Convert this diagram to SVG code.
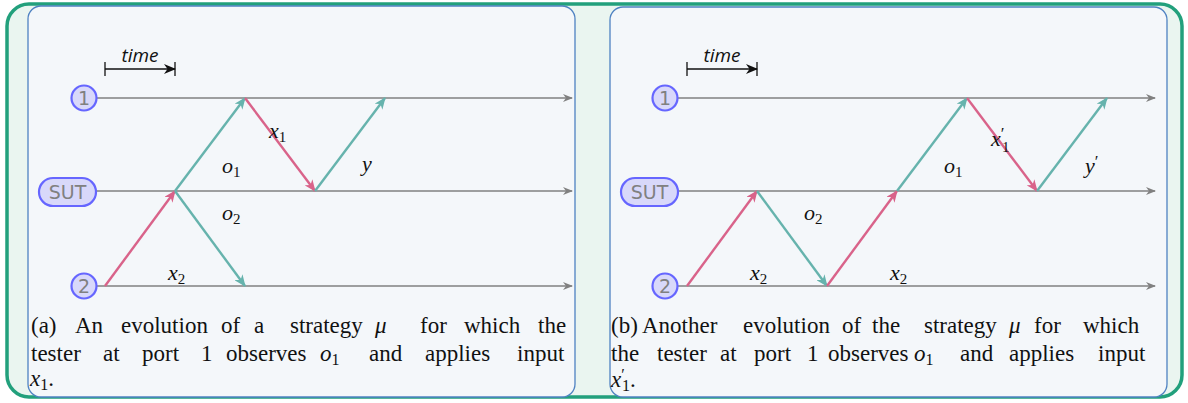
<svg xmlns="http://www.w3.org/2000/svg" width="1188" height="403" viewBox="0 0 1188 403">
<defs>
<marker id="ar" viewBox="0 0 12 10" refX="11" refY="5" markerWidth="12" markerHeight="10" markerUnits="userSpaceOnUse" orient="auto">
<path d="M0,0 L12,5 L0,10 L3.5,5 Z" fill="#d9638a"/>
</marker>
<marker id="at" viewBox="0 0 12 10" refX="11" refY="5" markerWidth="12" markerHeight="10" markerUnits="userSpaceOnUse" orient="auto">
<path d="M0,0 L12,5 L0,10 L3.5,5 Z" fill="#66b3ad"/>
</marker>
<marker id="ag" viewBox="0 0 10 8" refX="9" refY="4" markerWidth="10" markerHeight="8" markerUnits="userSpaceOnUse" orient="auto">
<path d="M0,0 L10,4 L0,8 L3,4 Z" fill="#808080"/>
</marker>
<marker id="ak" viewBox="0 0 12 10" refX="11" refY="5" markerWidth="12" markerHeight="10" markerUnits="userSpaceOnUse" orient="auto">
<path d="M0,0 L12,5 L0,10 L3.5,5 Z" fill="#111"/>
</marker>
</defs>
<rect x="7" y="4" width="1175" height="393" rx="22" fill="#eaf5f0" stroke="#22a07c" stroke-width="3.5"/>
<g fill="#f4f7fa" stroke="#4f82c2" stroke-width="1.3">
<rect x="28" y="6" width="547" height="391" rx="13"/>
<rect x="610" y="7" width="557" height="390" rx="13"/>
</g>

<g id="panel-a">
<g id="time-a" stroke="#111" stroke-width="1.3">
<line x1="105" y1="69" x2="175" y2="69" marker-end="url(#ak)"/>
<line x1="105" y1="62" x2="105" y2="76"/>
<line x1="175" y1="62" x2="175" y2="76"/>
</g>
<text font-family="Open Sans, sans-serif" font-style="italic" font-size="19" fill="#111" x="140" y="62" text-anchor="middle">time</text>
<g id="axes-a" stroke="#808080" stroke-width="1.3" fill="none">
<line x1="96" y1="98" x2="572" y2="98" marker-end="url(#ag)"/>
<line x1="96" y1="191" x2="572" y2="191" marker-end="url(#ag)"/>
<line x1="96" y1="286" x2="572" y2="286" marker-end="url(#ag)"/>
</g>
<g id="a-port1"><circle cx="84" cy="98" r="12.5" fill="#d8d8fa" stroke="#6666ff" stroke-width="2.2"/><text font-family="DejaVu Sans, sans-serif" font-size="19" fill="#808080" text-anchor="middle" x="84" y="105">1</text></g>
<g id="a-sut"><rect x="39" y="178" width="57" height="28" rx="14" fill="#d8d8fa" stroke="#6666ff" stroke-width="2.2"/><text font-family="DejaVu Sans, sans-serif" font-size="19" fill="#808080" text-anchor="middle" x="67.5" y="199">SUT</text></g>
<g id="a-port2"><circle cx="84" cy="286" r="12.5" fill="#d8d8fa" stroke="#6666ff" stroke-width="2.2"/><text font-family="DejaVu Sans, sans-serif" font-size="19" fill="#808080" text-anchor="middle" x="84" y="293">2</text></g>
<g id="connectors-a" stroke-width="2.4" fill="none">
<line stroke="#d9638a" x1="105" y1="286" x2="175" y2="191" marker-end="url(#ar)"/>
<line stroke="#66b3ad" x1="175" y1="191" x2="245" y2="98" marker-end="url(#at)"/>
<line stroke="#66b3ad" x1="175" y1="191" x2="245" y2="286" marker-end="url(#at)"/>
<line stroke="#d9638a" x1="245" y1="98" x2="315" y2="191" marker-end="url(#ar)"/>
<line stroke="#66b3ad" x1="315" y1="191" x2="385" y2="98" marker-end="url(#at)"/>
</g>
<g id="labels-a">
<text font-family="Liberation Serif, serif" font-style="italic" font-size="22" fill="#111" x="269" y="138">x<tspan font-style="normal" font-size="15" dy="4">1</tspan></text>
<text font-family="Liberation Serif, serif" font-style="italic" font-size="22" fill="#111" x="222" y="173">o<tspan font-style="normal" font-size="15" dy="4">1</tspan></text>
<text font-family="Liberation Serif, serif" font-style="italic" font-size="22" fill="#111" x="362" y="171">y</text>
<text font-family="Liberation Serif, serif" font-style="italic" font-size="22" fill="#111" x="222" y="220">o<tspan font-style="normal" font-size="15" dy="4">2</tspan></text>
<text font-family="Liberation Serif, serif" font-style="italic" font-size="22" fill="#111" x="168" y="280">x<tspan font-style="normal" font-size="15" dy="4">2</tspan></text>
</g>
<g id="caption-a">
<text font-family="Liberation Serif, serif" font-size="23" fill="#111" y="333"><tspan x="31">(a)</tspan><tspan x="75">An</tspan><tspan x="121">evolution</tspan><tspan x="221">of</tspan><tspan x="254">a</tspan><tspan x="290">strategy</tspan><tspan x="375" font-style="italic">μ</tspan><tspan x="420">for</tspan><tspan x="464">which</tspan><tspan x="538">the</tspan></text>
<text font-family="Liberation Serif, serif" font-size="23" fill="#111" y="361"><tspan x="31">tester</tspan><tspan x="103">at</tspan><tspan x="142">port</tspan><tspan x="201">1</tspan><tspan x="226">observes</tspan><tspan x="320" font-style="italic">o</tspan><tspan font-size="16" dy="4">1</tspan><tspan x="369" dy="-4">and</tspan><tspan x="425">applies</tspan><tspan x="517">input</tspan></text>
<text font-family="Liberation Serif, serif" font-size="23" fill="#111" x="30" y="386"><tspan font-style="italic">x</tspan><tspan font-size="16" dy="4">1</tspan><tspan dy="-4">.</tspan></text>
</g>
</g>

<g id="panel-b">
<g id="time-b" stroke="#111" stroke-width="1.3">
<line x1="687" y1="69" x2="757" y2="69" marker-end="url(#ak)"/>
<line x1="687" y1="62" x2="687" y2="76"/>
<line x1="757" y1="62" x2="757" y2="76"/>
</g>
<text font-family="Open Sans, sans-serif" font-style="italic" font-size="19" fill="#111" x="722" y="62" text-anchor="middle">time</text>
<g id="axes-b" stroke="#808080" stroke-width="1.3" fill="none">
<line x1="678" y1="98" x2="1155" y2="98" marker-end="url(#ag)"/>
<line x1="678" y1="191" x2="1155" y2="191" marker-end="url(#ag)"/>
<line x1="678" y1="286" x2="1155" y2="286" marker-end="url(#ag)"/>
</g>
<g id="b-port1"><circle cx="665" cy="98" r="12.5" fill="#d8d8fa" stroke="#6666ff" stroke-width="2.2"/><text font-family="DejaVu Sans, sans-serif" font-size="19" fill="#808080" text-anchor="middle" x="665" y="105">1</text></g>
<g id="b-sut"><rect x="621" y="178" width="57" height="28" rx="14" fill="#d8d8fa" stroke="#6666ff" stroke-width="2.2"/><text font-family="DejaVu Sans, sans-serif" font-size="19" fill="#808080" text-anchor="middle" x="649.5" y="199">SUT</text></g>
<g id="b-port2"><circle cx="665" cy="286" r="12.5" fill="#d8d8fa" stroke="#6666ff" stroke-width="2.2"/><text font-family="DejaVu Sans, sans-serif" font-size="19" fill="#808080" text-anchor="middle" x="665" y="293">2</text></g>
<g id="connectors-b" stroke-width="2.4" fill="none">
<line stroke="#d9638a" x1="687" y1="286" x2="757" y2="191" marker-end="url(#ar)"/>
<line stroke="#66b3ad" x1="757" y1="191" x2="827" y2="286" marker-end="url(#at)"/>
<line stroke="#d9638a" x1="827" y1="286" x2="897" y2="191" marker-end="url(#ar)"/>
<line stroke="#66b3ad" x1="897" y1="191" x2="967" y2="98" marker-end="url(#at)"/>
<line stroke="#d9638a" x1="967" y1="98" x2="1037" y2="191" marker-end="url(#ar)"/>
<line stroke="#66b3ad" x1="1037" y1="191" x2="1107" y2="98" marker-end="url(#at)"/>
</g>
<g id="labels-b">
<text font-family="Liberation Serif, serif" font-style="italic" font-size="22" fill="#111" x="750" y="280">x<tspan font-style="normal" font-size="15" dy="4">2</tspan></text>
<text font-family="Liberation Serif, serif" font-style="italic" font-size="22" fill="#111" x="804" y="220">o<tspan font-style="normal" font-size="15" dy="4">2</tspan></text>
<text font-family="Liberation Serif, serif" font-style="italic" font-size="22" fill="#111" x="890" y="280">x<tspan font-style="normal" font-size="15" dy="4">2</tspan></text>
<text font-family="Liberation Serif, serif" font-style="italic" font-size="22" fill="#111" x="944" y="173">o<tspan font-style="normal" font-size="15" dy="4">1</tspan></text>
<text font-family="Liberation Serif, serif" font-style="italic" font-size="22" fill="#111" x="991" y="146">x<tspan font-style="normal" font-size="17" dy="-7">′</tspan><tspan font-style="normal" font-size="15" x="1002" dy="13">1</tspan></text>
<text font-family="Liberation Serif, serif" font-style="italic" font-size="22" fill="#111" x="1085" y="173">y<tspan font-style="normal" font-size="17" dy="-6">′</tspan></text>
</g>
<g id="caption-b">
<text font-family="Liberation Serif, serif" font-size="23" fill="#111" y="333"><tspan x="611">(b)</tspan><tspan x="642">Another</tspan><tspan x="743">evolution</tspan><tspan x="842">of</tspan><tspan x="872">the</tspan><tspan x="924">strategy</tspan><tspan x="1009" font-style="italic">μ</tspan><tspan x="1034">for</tspan><tspan x="1083">which</tspan></text>
<text font-family="Liberation Serif, serif" font-size="23" fill="#111" y="361"><tspan x="611">the</tspan><tspan x="657">tester</tspan><tspan x="720">at</tspan><tspan x="754">port</tspan><tspan x="807">1</tspan><tspan x="828">observes</tspan><tspan x="914" font-style="italic">o</tspan><tspan font-size="16" dy="4">1</tspan><tspan x="960" dy="-4">and</tspan><tspan x="1009">applies</tspan><tspan x="1098">input</tspan></text>
<text font-family="Liberation Serif, serif" font-size="23" fill="#111" y="387"><tspan x="611" font-style="italic">x</tspan><tspan font-size="16" dy="-7">′</tspan><tspan font-size="16" x="622" dy="11">1</tspan><tspan dy="-4">.</tspan></text>
</g>
</g>
</svg>
